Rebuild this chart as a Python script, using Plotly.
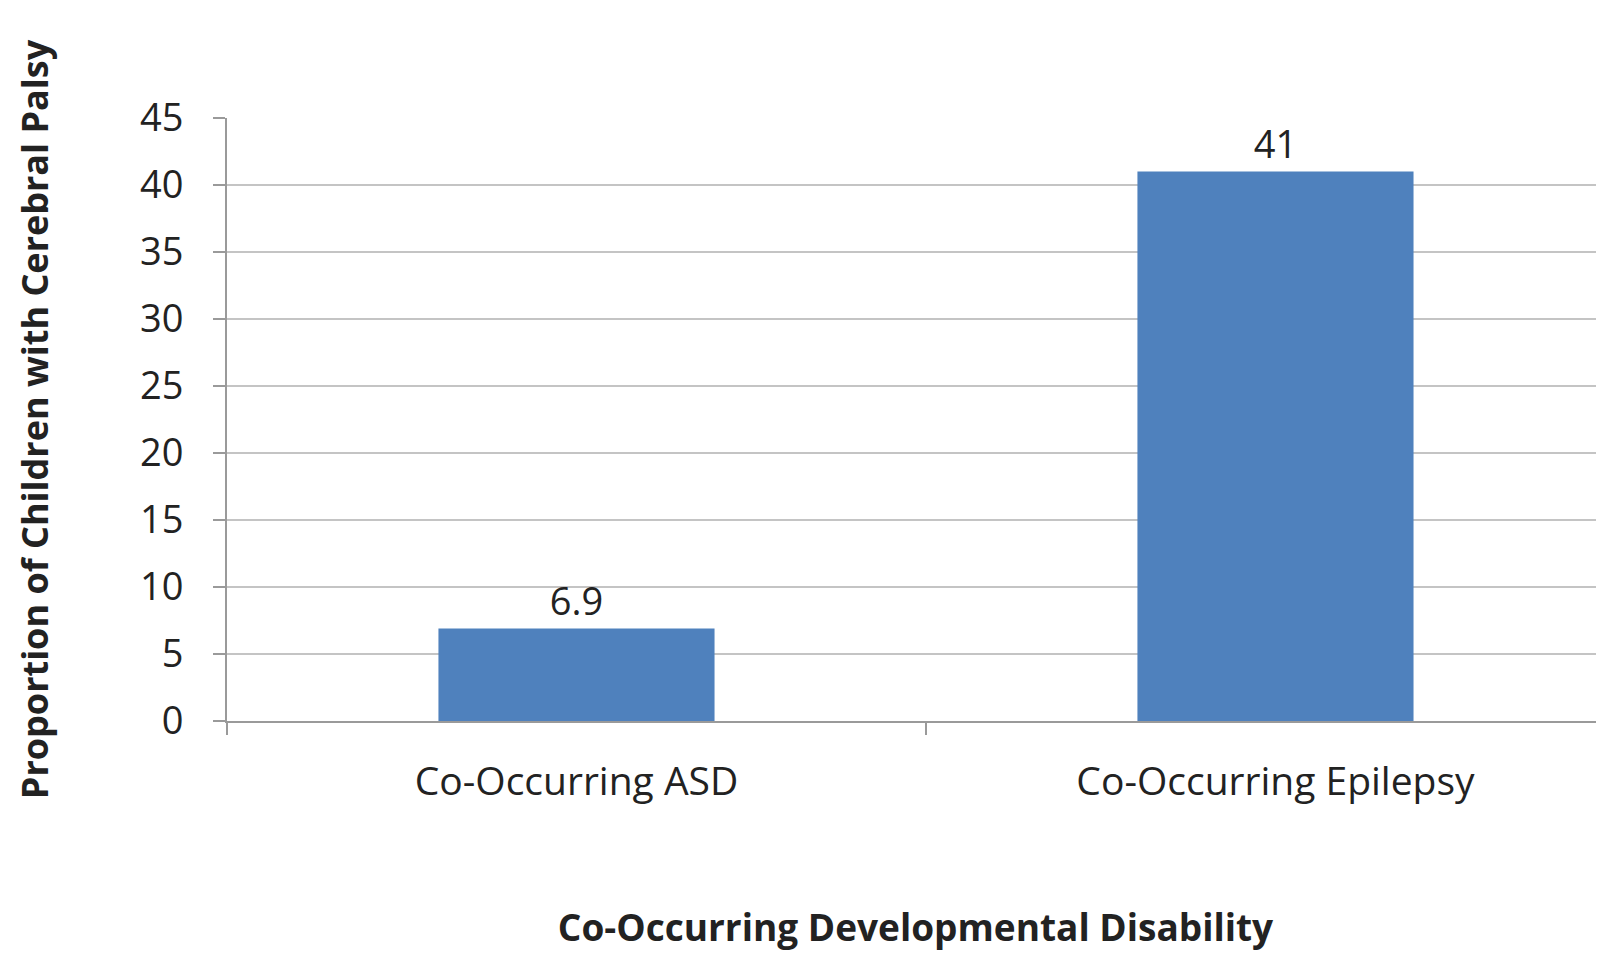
import plotly.graph_objects as go

categories = ["Co-Occurring ASD", "Co-Occurring Epilepsy"]
values = [6.9, 41]
value_labels = ["6.9", "41"]
y_ticks = [0, 5, 10, 15, 20, 25, 30, 35, 40, 45]

FONT = "Open Sans"
TXT = "#222222"

fig = go.Figure()
fig.add_trace(go.Bar(
    x=categories,
    y=values,
    text=value_labels,
    textposition="outside",
    textfont=dict(family=FONT, size=38, color=TXT),
    marker=dict(color="#4F81BD", line=dict(width=0)),
    width=0.395,
    cliponaxis=False,
))

fig.update_layout(
    width=1596,
    height=944,
    margin=dict(l=219, r=0, t=110, b=231, autoexpand=False),
    paper_bgcolor="white",
    plot_bgcolor="white",
    showlegend=False,
    font=dict(family=FONT, color=TXT),
    xaxis=dict(
        range=[-0.5, 1.47],
        showgrid=False,
        showline=True,
        linecolor="#9a9a9a",
        linewidth=2,
        ticks="outside",
        tickson="boundaries",
        ticklen=12,
        tickcolor="#9a9a9a",
        tickwidth=2,
        ticklabelstandoff=25,
        tickfont=dict(family=FONT, size=39, color=TXT),
        title=dict(
            text="<b>Co-Occurring Developmental Disability</b>",
            font=dict(family=FONT, size=37, color=TXT),
            standoff=130,
        ),
    ),
    yaxis=dict(
        range=[0, 45],
        tickvals=y_ticks,
        showgrid=True,
        gridcolor="#c4c4c4",
        gridwidth=2,
        showline=True,
        linecolor="#9a9a9a",
        linewidth=2,
        ticks="outside",
        ticklen=12,
        tickcolor="#9a9a9a",
        tickwidth=2,
        ticklabelstandoff=22,
        zeroline=False,
        tickfont=dict(family=FONT, size=38, color=TXT),
        title=dict(
            text="<b>Proportion of Children with Cerebral Palsy</b>",
            font=dict(family=FONT, size=36, color=TXT),
            standoff=80,
        ),
    ),
)

fig.write_html("out.html")
